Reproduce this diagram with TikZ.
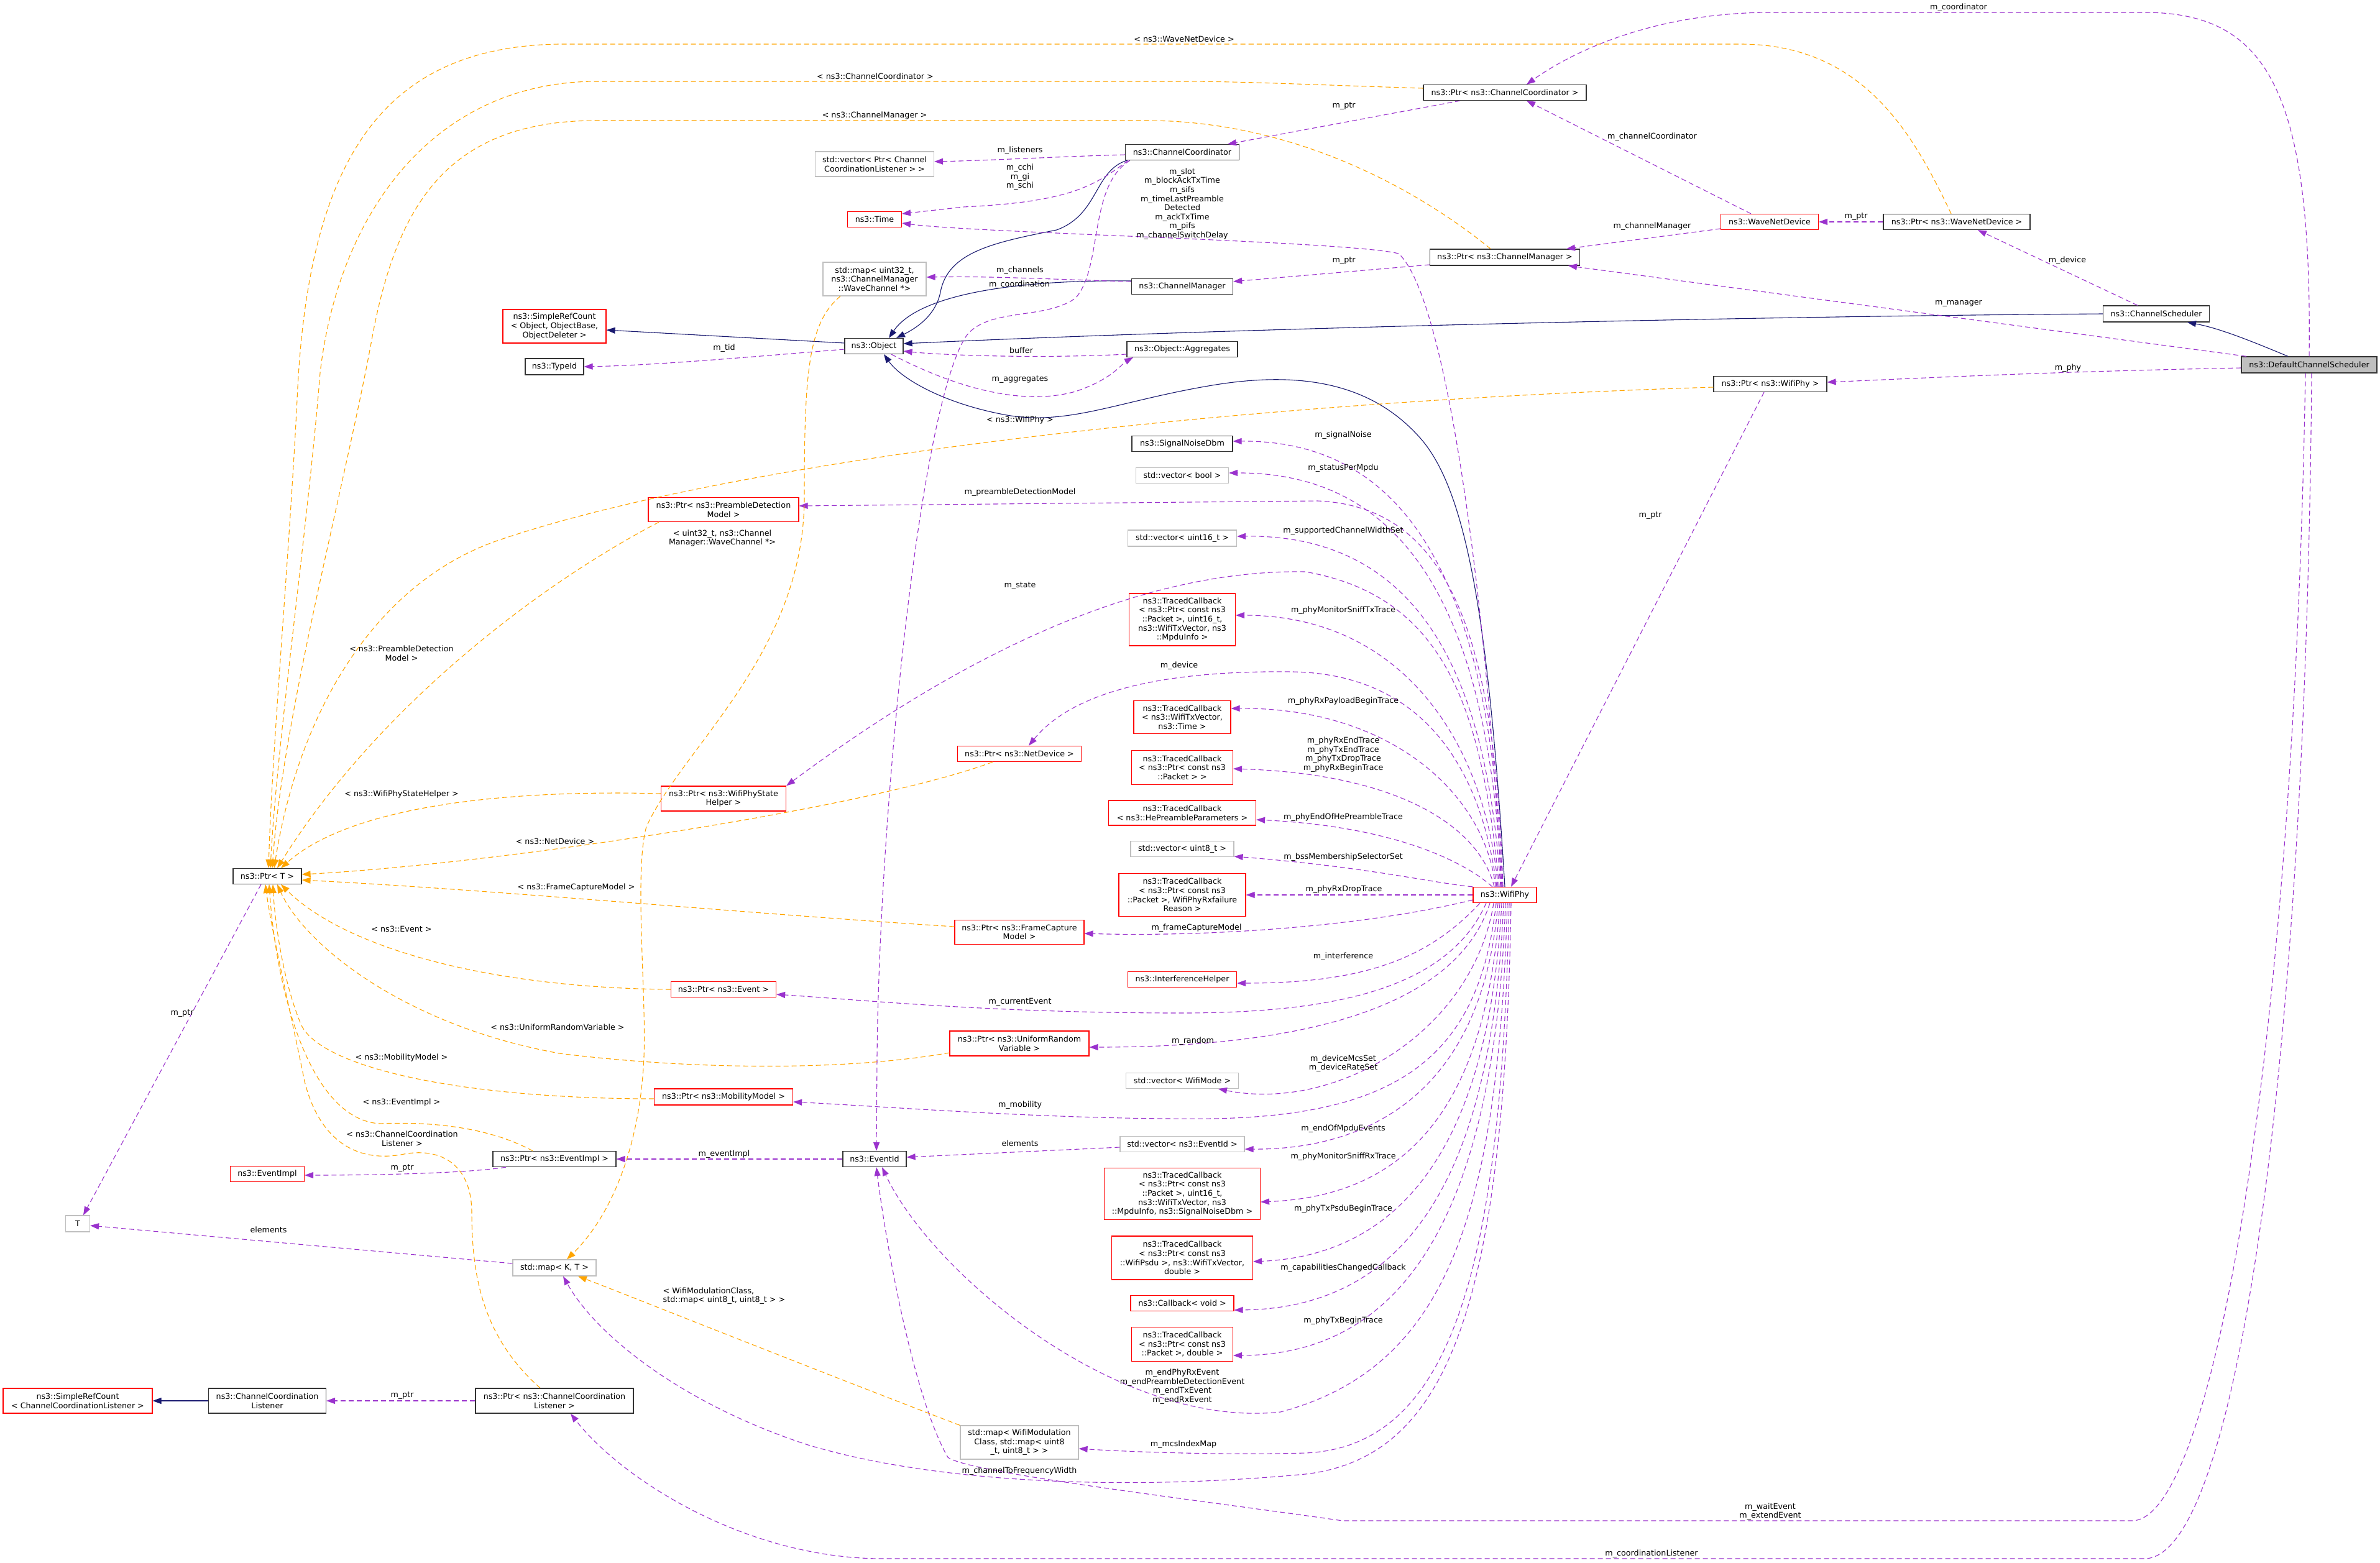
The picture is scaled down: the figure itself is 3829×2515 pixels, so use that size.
\documentclass[tikz,border=0pt]{standalone}
\usepackage{fontspec}
\setmainfont{DejaVu Sans}
\usetikzlibrary{arrows.meta}
\definecolor{epur}{HTML}{9A32CD}
\definecolor{eora}{HTML}{FFA500}
\definecolor{enav}{HTML}{191970}
\definecolor{gbd}{HTML}{BFBFBF}
\definecolor{nbd}{HTML}{333333}
\newcommand\dgfont{\fontsize{12.7}{14.6}\selectfont}
\tikzset{
  base/.style={rectangle, inner sep=0pt, align=center, font=\dgfont, line width=1.2pt},
  bk/.style={base, draw=nbd},
  rd/.style={base, draw=red},
  gy/.style={base, draw=gbd},
  sel/.style={base, draw=nbd, fill=gbd},
  sz/.style 2 args={minimum width=#1pt, minimum height=#2pt},
  lbl/.style={font=\dgfont, align=center, inner sep=0pt},
  tipA/.style={-{Triangle[length=14pt,width=10pt]}},
  use/.style={draw=epur, line width=1.1pt, dash pattern=on 8pt off 5pt, tipA},
  tpl/.style={draw=eora, line width=1.1pt, dash pattern=on 8pt off 5pt, tipA},
  inh/.style={draw=enav, line width=1.1pt, tipA}
}
\begin{document}
\begin{tikzpicture}[x=1pt,y=-1pt]
\fill[white] (0,0) rectangle (3829,2515);
\useasboundingbox (0,0) rectangle (3829,2515);

% ---------------- nodes ----------------
\node[rd, sz={166}{54}] (src1) at (892,525) {ns3::SimpleRefCount\\< Object, ObjectBase,\\ ObjectDeleter >};
\node[bk, sz={94}{26}] (typeid) at (892,590) {ns3::TypeId};
\node[bk, sz={94}{25}] (object) at (1406,557) {ns3::Object};
\node[gy, sz={191}{40}] (veccl) at (1407,264) {std::vector< Ptr< Channel\\CoordinationListener > >};
\node[rd, sz={87}{25}] (time) at (1407,353) {ns3::Time};
\node[gy, sz={166}{54}] (mapu) at (1407,449) {std::map< uint32\_t,\\ ns3::ChannelManager\\::WaveChannel *>};
\node[bk, sz={183}{25}] (cc) at (1902,245) {ns3::ChannelCoordinator};
\node[bk, sz={163}{25}] (cm) at (1902,461) {ns3::ChannelManager};
\node[bk, sz={178}{25}] (agg) at (1902,562) {ns3::Object::Aggregates};
\node[bk, sz={162}{25}] (snd) at (1902,714) {ns3::SignalNoiseDbm};
\node[gy, sz={149}{25}] (vecbool) at (1902,765) {std::vector< bool >};
\node[rd, sz={242}{39}] (pd) at (1164,820) {ns3::Ptr< ns3::PreambleDetection\\Model >};
\node[bk, sz={262}{25}] (pcc) at (2421,149) {ns3::Ptr< ns3::ChannelCoordinator >};
\node[bk, sz={241}{26}] (pcm) at (2421,414) {ns3::Ptr< ns3::ChannelManager >};
\node[rd, sz={157}{25}] (wnd) at (2847,357) {ns3::WaveNetDevice};
\node[bk, sz={182}{25}] (pwifi) at (2848,618) {ns3::Ptr< ns3::WifiPhy >};
\node[bk, sz={236}{25}] (pwnd) at (3148,357) {ns3::Ptr< ns3::WaveNetDevice >};
\node[bk, sz={171}{26}] (cs) at (3469,505) {ns3::ChannelScheduler};
\node[sel, sz={218}{26}] (dcs) at (3715,587) {ns3::DefaultChannelScheduler};
\node[bk, sz={110}{25}] (pt) at (430,1410) {ns3::Ptr< T >};
\node[rd, sz={201}{40}] (wpsh) at (1164,1285) {ns3::Ptr< ns3::WifiPhyState\\Helper >};
\node[rd, sz={199}{25}] (nd) at (1640,1213) {ns3::Ptr< ns3::NetDevice >};
\node[rd, sz={208}{39}] (fc) at (1640,1500) {ns3::Ptr< ns3::FrameCapture\\Model >};
\node[rd, sz={169}{25}] (pev) at (1164,1592) {ns3::Ptr< ns3::Event >};
\node[rd, sz={224}{40}] (urv) at (1640,1679) {ns3::Ptr< ns3::UniformRandom\\Variable >};
\node[gy, sz={175}{26}] (vecu16) at (1902,866) {std::vector< uint16\_t >};
\node[rd, sz={171}{84}] (tc1) at (1902,997) {ns3::TracedCallback\\< ns3::Ptr< const ns3\\::Packet >, uint16\_t,\\ ns3::WifiTxVector, ns3\\::MpduInfo >};
\node[rd, sz={156}{53}] (tc2) at (1902,1154) {ns3::TracedCallback\\< ns3::WifiTxVector,\\ ns3::Time >};
\node[rd, sz={163}{55}] (tc3) at (1902,1235) {ns3::TracedCallback\\< ns3::Ptr< const ns3\\::Packet > >};
\node[rd, sz={237}{40}] (tc4) at (1902,1308) {ns3::TracedCallback\\< ns3::HePreambleParameters >};
\node[gy, sz={166}{25}] (vecu8) at (1902,1366) {std::vector< uint8\_t >};
\node[rd, sz={204}{69}] (tc5) at (1902,1440) {ns3::TracedCallback\\< ns3::Ptr< const ns3\\::Packet >, WifiPhyRxfailure\\Reason >};
\node[rd, sz={175}{25}] (ih) at (1902,1576) {ns3::InterferenceHelper};
\node[rd, sz={102}{25}] (wifiphy) at (2421,1440) {ns3::WifiPhy};
\node[rd, sz={119}{25}] (ei) at (430,1889) {ns3::EventImpl};
\node[gy, sz={39}{26}] (tnode) at (125,1969) {T};
\node[rd, sz={240}{40}] (src2) at (125,2254) {ns3::SimpleRefCount\\< ChannelCoordinationListener >};
\node[bk, sz={189}{40}] (ccl) at (430,2254) {ns3::ChannelCoordination\\Listener};
\node[bk, sz={254}{40}] (pccl) at (892,2254) {ns3::Ptr< ns3::ChannelCoordination\\Listener >};
\node[bk, sz={198}{25}] (pei) at (892,1865) {ns3::Ptr< ns3::EventImpl >};
\node[gy, sz={134}{26}] (mapkt) at (892,2040) {std::map< K, T >};
\node[rd, sz={223}{26}] (pmm) at (1164,1765) {ns3::Ptr< ns3::MobilityModel >};
\node[bk, sz={102}{25}] (eventid) at (1407,1865) {ns3::EventId};
\node[gy, sz={190}{54}] (mapwmc) at (1640,2321) {std::map< WifiModulation\\Class, std::map< uint8\\\_t, uint8\_t > >};
\node[gy, sz={181}{25}] (vecwm) at (1902,1739) {std::vector< WifiMode >};
\node[gy, sz={200}{25}] (vecei) at (1902,1841) {std::vector< ns3::EventId >};
\node[rd, sz={251}{83}] (tc6) at (1902,1921) {ns3::TracedCallback\\< ns3::Ptr< const ns3\\::Packet >, uint16\_t,\\ ns3::WifiTxVector, ns3\\::MpduInfo, ns3::SignalNoiseDbm >};
\node[rd, sz={227}{70}] (tc7) at (1902,2024) {ns3::TracedCallback\\< ns3::Ptr< const ns3\\::WifiPsdu >, ns3::WifiTxVector,\\ double >};
\node[rd, sz={166}{25}] (cb) at (1902,2097) {ns3::Callback< void >};
\node[rd, sz={163}{55}] (tc8) at (1902,2163) {ns3::TracedCallback\\< ns3::Ptr< const ns3\\::Packet >, double >};

% ---------------- inheritance ----------------
\draw[inh] ([yshift=5pt]object.west) -- ([yshift=-6pt]src1.east);
\draw[inh] ([xshift=3pt]cc.south west) .. controls (1760,275) and (1768,345) .. (1700,370) .. controls (1600,390) and (1525,405) .. (1513,470) .. controls (1505,510) and (1470,530) .. ([xshift=36pt]object.north);
\draw[inh] ([yshift=9pt]cm.west) .. controls (1650,450) and (1480,470) .. ([xshift=24pt]object.north);
\draw[inh] (cs.west) .. controls (2700,510) and (1900,532) .. ([yshift=4pt]object.east);
\draw[inh] (wifiphy.north) .. controls (2395,1000) and (2360,790) .. (2285,705) .. controls (2210,620) and (2100,595) .. (1950,620) .. controls (1800,645) and (1720,685) .. (1620,668) .. controls (1520,650) and (1450,610) .. ([xshift=16pt]object.south);
\draw[inh] ([xshift=-34pt]dcs.north) .. controls (3620,548) and (3570,528) .. ([xshift=50pt]cs.south);
\draw[inh] (ccl.west) -- (src2.east);

% ---------------- usage ----------------
\draw[use] ([yshift=-5pt]object.west) .. controls (1200,575) and (1050,588) .. (typeid.east);
\draw[use] ([yshift=-4pt]cc.west) .. controls (1700,252) and (1600,258) .. ([yshift=4pt]veccl.east);
\draw[use] ([xshift=5pt]cc.south west) .. controls (1760,300) and (1720,325) .. (1550,333) -- ([yshift=9pt]time.east);
\draw[use] ([xshift=8pt]cc.south west) .. controls (1750,300) and (1775,430) .. (1730,480) .. controls (1680,515) and (1590,495) .. (1555,540) .. controls (1480,650) and (1415,1300) .. (1411,1700) -- ([xshift=3pt]eventid.north);
\draw[use] ([yshift=8pt]cm.west) .. controls (1700,450) and (1600,444) .. ([yshift=3pt]mapu.east);
\draw[use] ([yshift=-8pt]agg.west) .. controls (1650,578) and (1500,570) .. ([yshift=-8pt]object.east);
\draw[use] ([xshift=28pt]object.south) .. controls (1530,620) and (1640,655) .. (1730,630) .. controls (1790,610) and (1805,585) .. ([xshift=-79pt]agg.south);
\draw[use] ([xshift=-30pt]cs.north) -- ([xshift=34pt]pwnd.south);
\draw[use] (pwnd.west) -- (wnd.east);
\draw[use] ([xshift=-101pt]dcs.north) -- ([xshift=102pt]pcm.south);
\draw[use] ([yshift=-5pt]dcs.west) .. controls (3300,598) and (3100,608) .. ([yshift=3pt]pwifi.east);
\draw[use] (dcs.north) .. controls (3720,150) and (3650,20) .. (3450,20) -- (2850,20) .. controls (2650,20) and (2520,90) .. ([xshift=35pt]pcc.north);
\draw[use] ([xshift=-6pt]dcs.south) .. controls (3690,1700) and (3560,2447) .. (3430,2447) -- (2160,2447) .. controls (1900,2410) and (1560,2370) .. (1525,2345) .. controls (1470,2250) and (1425,2000) .. ([xshift=3pt]eventid.south);
\draw[use] ([xshift=4pt]dcs.south) .. controls (3710,1700) and (3600,2508) .. (3450,2508) -- (1420,2508) .. controls (1200,2508) and (1000,2380) .. ([xshift=26pt]pccl.south);
\draw[use] ([xshift=-30pt]wnd.north) -- ([xshift=35pt]pcc.south);
\draw[use] ([yshift=-11pt]wnd.west) -- ([xshift=99pt]pcm.north);
\draw[use] ([xshift=-72pt]pcc.south) -- ([xshift=73pt]cc.north);
\draw[use] ([yshift=-12pt]pcm.west) -- ([yshift=8pt]cm.east);
\draw[use] ([xshift=-10pt]pwifi.south) -- ([xshift=10pt]wifiphy.north);
\draw[use] ([xshift=-10pt]pt.south) -- ([xshift=9pt]tnode.north);
\draw[use] ([yshift=7pt]mapkt.west) -- ([yshift=-3pt]tnode.east);
\draw[use] ([xshift=-78pt]pei.south) .. controls (750,1888) and (600,1891) .. ([yshift=-2pt]ei.east);
\draw[use] (eventid.west) -- (pei.east);
\draw[use] ([yshift=-5pt]vecei.west) -- ([yshift=3pt]eventid.east);
\draw[use] (pccl.west) -- (ccl.east);

% WifiPhy fan (top)
\draw[use] ([xshift=-6pt]wifiphy.north) .. controls (2395,1000) and (2330,480) .. (2250,408) .. controls (2170,388) and (1570,375) .. ([yshift=-6pt]time.east);
\draw[use] ([xshift=-4pt]wifiphy.north) .. controls (2400,950) and (2270,708) .. ([yshift=4pt]snd.east);
\draw[use] ([xshift=-5pt]wifiphy.north) .. controls (2395,980) and (2260,760) .. ([yshift=4pt]vecbool.east);
\draw[use] ([xshift=-3pt]wifiphy.north) .. controls (2405,1000) and (2320,815) .. (2120,806) -- ([yshift=6pt]pd.east);
\draw[use] ([xshift=-7pt]wifiphy.north) .. controls (2390,1050) and (2260,860) .. ([yshift=3pt]vecu16.east);
\draw[use] ([xshift=-9pt]wifiphy.north) .. controls (2385,1150) and (2330,960) .. (2100,920) .. controls (1800,915) and (1500,1090) .. (wpsh.north east);
\draw[use] ([xshift=-11pt]wifiphy.north) .. controls (2390,1200) and (2260,990) .. ([yshift=7pt]tc1.east);
\draw[use] ([xshift=-13pt]wifiphy.north) .. controls (2385,1250) and (2300,1085) .. (2080,1081) .. controls (1850,1078) and (1720,1120) .. ([xshift=15pt]nd.north);
\draw[use] ([xshift=-15pt]wifiphy.north) .. controls (2390,1280) and (2240,1138) .. ([yshift=14pt]tc2.east);
\draw[use] ([xshift=-17pt]wifiphy.north) .. controls (2380,1330) and (2250,1245) .. ([yshift=-2pt]tc3.east);
\draw[use] ([xshift=-20pt]wifiphy.north) .. controls (2360,1390) and (2250,1330) .. ([yshift=-11pt]tc4.east);
\draw[use] (wifiphy.north west) .. controls (2300,1420) and (2200,1395) .. ([yshift=-12pt]vecu8.east);
\draw[use] (wifiphy.west) -- (tc5.east);
\draw[use] ([yshift=-8pt]wifiphy.west) .. controls (2200,1490) and (1950,1508) .. ([yshift=-2pt]fc.east);
% WifiPhy fan (bottom)
\draw[use] ([xshift=-40pt]wifiphy.south) .. controls (2300,1540) and (2200,1582) .. ([yshift=-6pt]ih.east);
\draw[use] ([xshift=-30pt]wifiphy.south) .. controls (2330,1590) and (2150,1630) .. (1900,1630) .. controls (1600,1630) and (1400,1610) .. ([yshift=-8pt]pev.east);
\draw[use] ([xshift=-24pt]wifiphy.south) .. controls (2350,1600) and (2150,1685) .. ([yshift=-6pt]urv.east);
\draw[use] ([xshift=-18pt]wifiphy.south) .. controls (2370,1660) and (2150,1790) .. ([xshift=58pt]vecwm.south);
\draw[use] ([xshift=-14pt]wifiphy.south) .. controls (2380,1700) and (2250,1795) .. (1950,1800) .. controls (1700,1802) and (1450,1782) .. ([yshift=-8pt]pmm.east);
\draw[use] ([xshift=-11pt]wifiphy.south) .. controls (2385,1760) and (2200,1850) .. ([yshift=-8pt]vecei.east);
\draw[use] ([xshift=-8pt]wifiphy.south) .. controls (2390,1800) and (2250,1925) .. ([yshift=-13pt]tc6.east);
\draw[use] ([xshift=-5pt]wifiphy.south) .. controls (2395,1850) and (2250,2020) .. ([yshift=-6pt]tc7.east);
\draw[use] ([xshift=-2pt]wifiphy.south) .. controls (2400,1900) and (2260,2105) .. ([yshift=-11pt]cb.east);
\draw[use] ([xshift=1pt]wifiphy.south) .. controls (2405,1950) and (2260,2180) .. ([yshift=-18pt]tc8.east);
\draw[use] ([xshift=4pt]wifiphy.south) .. controls (2410,1950) and (2330,2200) .. (2060,2272) .. controls (1800,2300) and (1500,2050) .. ([xshift=12pt]eventid.south);
\draw[use] ([xshift=7pt]wifiphy.south) .. controls (2415,2000) and (2350,2328) .. (2100,2338) .. controls (1950,2342) and (1800,2335) .. ([yshift=-10pt]mapwmc.east);
\draw[use] ([xshift=10pt]wifiphy.south) .. controls (2420,2100) and (2330,2345) .. (2100,2372) .. controls (1800,2400) and (1500,2385) .. (1300,2325) .. controls (1100,2260) and (960,2150) .. ([xshift=14pt]mapkt.south);

% ---------------- template instances ----------------
\draw[tpl] ([xshift=-9pt]pwnd.north) .. controls (3080,220) and (3000,71) .. (2800,71) -- (900,71) .. controls (620,75) and (495,250) .. (478,643) .. controls (465,900) and (438,1200) .. ([xshift=2pt]pt.north);
\draw[tpl] ([yshift=7pt]pcc.west) .. controls (2100,136) and (2000,131) .. (1900,131) -- (960,131) .. controls (700,131) and (545,340) .. (515,600) .. controls (495,850) and (445,1200) .. ([xshift=5pt]pt.north);
\draw[tpl] ([xshift=-23pt]pcm.north) .. controls (2300,320) and (2100,196) .. (1850,194) -- (960,194) .. controls (720,194) and (640,330) .. (600,536) .. controls (560,760) and (455,1150) .. ([xshift=8pt]pt.north);
\draw[tpl] ([yshift=-5pt]pwifi.west) .. controls (1900,650) and (1150,750) .. (800,870) .. controls (600,940) and (480,1150) .. ([xshift=11pt]pt.north);
\draw[tpl] ([xshift=-104pt]pd.south) .. controls (850,950) and (600,1150) .. ([xshift=16pt]pt.north);
\draw[tpl] ([yshift=8pt]wpsh.west) .. controls (800,1270) and (560,1300) .. ([xshift=22pt]pt.north);
\draw[tpl] ([xshift=-43pt]nd.south) .. controls (1400,1300) and (800,1390) .. ([yshift=3pt]pt.east);
\draw[tpl] ([yshift=9pt]fc.west) .. controls (1200,1470) and (800,1432) .. ([yshift=-6pt]pt.east);
\draw[tpl] (pev.west) .. controls (800,1590) and (560,1530) .. ([xshift=22pt]pt.south);
\draw[tpl] ([yshift=-15pt]urv.west) .. controls (1350,1725) and (1100,1720) .. (900,1695) .. controls (650,1650) and (490,1520) .. ([xshift=16pt]pt.south);
\draw[tpl] ([yshift=-3pt]pmm.west) .. controls (750,1768) and (520,1720) .. (485,1650) .. controls (455,1580) and (442,1480) .. ([xshift=9pt]pt.south);
\draw[tpl] ([xshift=-35pt]pei.north) .. controls (780,1810) and (680,1805) .. (610,1808) .. controls (500,1800) and (445,1600) .. ([xshift=3pt]pt.south);
\draw[tpl] ([xshift=-23pt]pccl.north) .. controls (775,2150) and (759,2050) .. (759,1950) .. controls (758,1870) and (705,1845) .. (645,1858) .. controls (560,1872) and (510,1820) .. (490,1740) .. controls (470,1640) and (437,1500) .. ([xshift=-3pt]pt.south);
\draw[tpl] ([xshift=-55pt]mapu.south) .. controls (1300,520) and (1294,600) .. (1294,800) .. controls (1294,1050) and (1100,1200) .. (1040,1330) .. controls (1020,1400) and (1040,1600) .. (1036,1700) .. controls (1030,1850) and (980,1960) .. ([xshift=20pt]mapkt.north);
\draw[tpl] (mapwmc.north west) .. controls (1300,2200) and (1000,2080) .. ([xshift=38pt]mapkt.south);

% ---------------- labels ----------------
\node[lbl] (l01) at (1641,242) {m\_listeners};
\node[lbl] (l02) at (1641,285) {m\_cchi\\m\_gi\\m\_schi};
\node[lbl] (l03) at (1902,328) {m\_slot\\m\_blockAckTxTime\\m\_sifs\\m\_timeLastPreamble\\Detected\\m\_ackTxTime\\m\_pifs\\m\_channelSwitchDelay};
\node[lbl] (l04) at (1641,435) {m\_channels};
\node[lbl] (l05) at (1640,458) {m\_coordination};
\node[lbl] (l06) at (1165,560) {m\_tid};
\node[lbl] (l07) at (1643,564) {buffer};
\node[lbl] (l08) at (1641,611) {m\_aggregates};
\node[lbl] (l09) at (1905,63) {< ns3::WaveNetDevice >};
\node[lbl] (l10) at (1408,123) {< ns3::ChannelCoordinator >};
\node[lbl] (l11) at (1407,186) {< ns3::ChannelManager >};
\node[lbl] (l12) at (3151,12) {m\_coordinator};
\node[lbl] (l13) at (2162,171) {m\_ptr};
\node[lbl] (l14) at (2658,220) {m\_channelCoordinator};
\node[lbl] (l15) at (2658,364) {m\_channelManager};
\node[lbl] (l16) at (2162,420) {m\_ptr};
\node[lbl] (l17) at (2986,349) {m\_ptr};
\node[lbl] (l18) at (3326,419) {m\_device};
\node[lbl] (l19) at (3151,488) {m\_manager};
\node[lbl] (l20) at (3327,592) {m\_phy};
\node[lbl] (l21) at (1641,676) {< ns3::WifiPhy >};
\node[lbl] (l22) at (2655,830) {m\_ptr};
\node[lbl] (l23) at (2161,700) {m\_signalNoise};
\node[lbl] (l24) at (2161,753) {m\_statusPerMpdu};
\node[lbl] (l25) at (1641,792) {m\_preambleDetectionModel};
\node[lbl] (l26) at (2161,854) {m\_supportedChannelWidthSet};
\node[lbl] (l27) at (1162,866) {< uint32\_t, ns3::Channel\\Manager::WaveChannel *>};
\node[lbl] (l28) at (1641,943) {m\_state};
\node[lbl] (l29) at (2161,982) {m\_phyMonitorSniffTxTrace};
\node[lbl] (l30) at (646,1051) {< ns3::PreambleDetection\\Model >};
\node[lbl] (l31) at (1897,1071) {m\_device};
\node[lbl] (l32) at (2161,1128) {m\_phyRxPayloadBeginTrace};
\node[lbl] (l33) at (2161,1214) {m\_phyRxEndTrace\\m\_phyTxEndTrace\\m\_phyTxDropTrace\\m\_phyRxBeginTrace};
\node[lbl] (l34) at (646,1278) {< ns3::WifiPhyStateHelper >};
\node[lbl] (l35) at (2161,1315) {m\_phyEndOfHePreambleTrace};
\node[lbl] (l36) at (893,1354) {< ns3::NetDevice >};
\node[lbl] (l37) at (2161,1379) {m\_bssMembershipSelectorSet};
\node[lbl] (l38) at (927,1428) {< ns3::FrameCaptureModel >};
\node[lbl] (l39) at (2162,1431) {m\_phyRxDropTrace};
\node[lbl] (l40) at (1925,1493) {m\_frameCaptureModel};
\node[lbl] (l41) at (646,1495) {< ns3::Event >};
\node[lbl] (l42) at (2161,1539) {m\_interference};
\node[lbl] (l43) at (1641,1612) {m\_currentEvent};
\node[lbl] (l44) at (293,1631) {m\_ptr};
\node[lbl] (l45) at (897,1653) {< ns3::UniformRandomVariable >};
\node[lbl] (l46) at (1919,1675) {m\_random};
\node[lbl] (l47) at (646,1702) {< ns3::MobilityModel >};
\node[lbl] (l48) at (2161,1711) {m\_deviceMcsSet\\m\_deviceRateSet};
\node[lbl] (l49) at (646,1774) {< ns3::EventImpl >};
\node[lbl] (l50) at (1641,1778) {m\_mobility};
\node[lbl] (l51) at (2161,1816) {m\_endOfMpduEvents};
\node[lbl] (l52) at (647,1832) {< ns3::ChannelCoordination\\Listener >};
\node[lbl] (l53) at (1641,1840) {elements};
\node[lbl] (l54) at (1165,1857) {m\_eventImpl};
\node[lbl] (l55) at (2161,1861) {m\_phyMonitorSniffRxTrace};
\node[lbl] (l56) at (647,1880) {m\_ptr};
\node[lbl] (l57) at (2161,1945) {m\_phyTxPsduBeginTrace};
\node[lbl] (l58) at (432,1979) {elements};
\node[lbl] (l59) at (2161,2040) {m\_capabilitiesChangedCallback};
\node[lbl, align=left] (l60) at (1165,2085) {< WifiModulationClass,\\std::map< uint8\_t, uint8\_t > >};
\node[lbl] (l61) at (2161,2125) {m\_phyTxBeginTrace};
\node[lbl] (l62) at (1902,2231) {m\_endPhyRxEvent\\m\_endPreambleDetectionEvent\\m\_endTxEvent\\m\_endRxEvent};
\node[lbl] (l63) at (647,2246) {m\_ptr};
\node[lbl] (l64) at (1904,2324) {m\_mcsIndexMap};
\node[lbl] (l65) at (1640,2367) {m\_channelToFrequencyWidth};
\node[lbl] (l66) at (2848,2432) {m\_waitEvent\\m\_extendEvent};
\node[lbl] (l67) at (2657,2500) {m\_coordinationListener};
\end{tikzpicture}
\end{document}
